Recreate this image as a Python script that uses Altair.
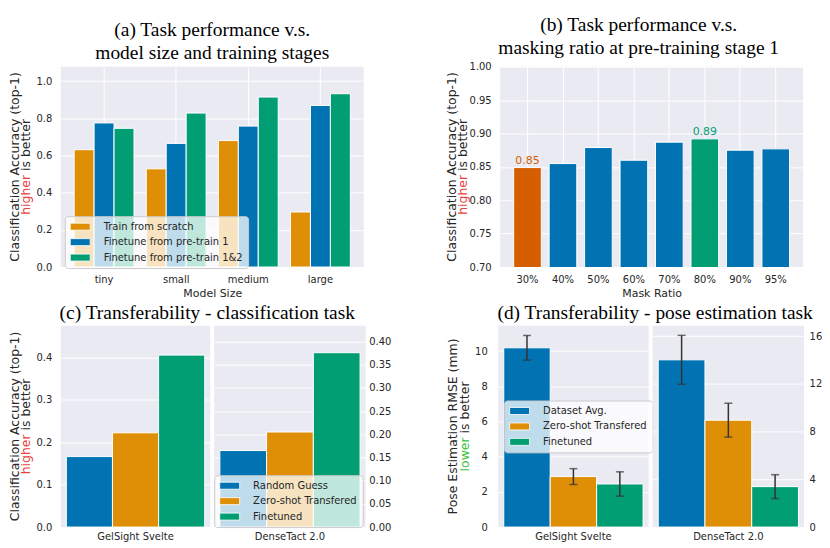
import altair as alt
import pandas as pd

# ---------------- data ----------------
model_sizes = ["tiny", "small", "medium", "large"]
train_stages = ["Train from scratch", "Finetune from pre-train 1", "Finetune from pre-train 1&2"]
acc_scratch = [0.631, 0.528, 0.680, 0.296]
acc_pretrain1 = [0.775, 0.665, 0.758, 0.869]
acc_pretrain12 = [0.746, 0.828, 0.914, 0.932]

mask_ratios = ["30%", "40%", "50%", "60%", "70%", "80%", "90%", "95%"]
mask_accuracy = [0.849, 0.855, 0.879, 0.860, 0.887, 0.892, 0.875, 0.877]
mask_highlight = ["lowest", "other", "other", "other", "other", "highest", "other", "other"]

sensors = ["GelSight Svelte", "DenseTact 2.0"]
cls_methods = ["Random Guess", "Zero-shot Transfered", "Finetuned"]
cls_gelsight = [0.166, 0.222, 0.405]
cls_densetact = [0.165, 0.205, 0.376]

pose_methods = ["Dataset Avg.", "Zero-shot Transfered", "Finetuned"]
pose_gelsight = [10.19, 2.87, 2.45]
pose_gelsight_err = [0.70, 0.45, 0.69]
pose_densetact = [14.02, 8.96, 3.39]
pose_densetact_err = [2.05, 1.42, 1.00]

title_a = ["(a) Task performance v.s.", "model size and training stages"]
title_b = ["(b) Task performance v.s.", "masking ratio at pre-training stage 1"]
title_c = "(c) Transferability - classification task"
title_d = "(d) Transferability - pose estimation task"
ytitle_cls = "Classification Accuracy (top-1)"
ytitle_pose = "Pose Estimation RMSE (mm)"
better_hi = ["higher", "is better"]
better_lo = ["lower", "is better"]

ticks_a = [0.0, 0.2, 0.4, 0.6, 0.8, 1.0]
ticks_b = [0.70, 0.75, 0.80, 0.85, 0.90, 0.95, 1.00]
ticks_cL = [0.0, 0.1, 0.2, 0.3, 0.4]
ticks_cR = [0.0, 0.05, 0.10, 0.15, 0.20, 0.25, 0.30, 0.35, 0.40]
ticks_dL = [0, 2, 4, 6, 8, 10]
ticks_dR = [0, 2, 4, 6, 8, 10, 12, 14, 16]

# ---------------- style ----------------
FONT = "DejaVu Sans"
SERIF = "Liberation Serif"
BG = "#eaeaf2"
TXT = "#262626"
BLUE, ORANGE, GREEN, RED = "#0173b2", "#de8f05", "#029e73", "#d55e00"
HI_RED, LO_GREEN = "#e8413f", "#3cc13c"
ERR = "#333333"
YT_FS = 12.5
WORD_EM = {"higher": 3.207, "lower": 2.734}

H_TOP, H_BOT = 201, 202


def legend(x, y):
    return alt.Legend(title=None, orient="none", legendX=x, legendY=y,
                      fillColor="rgba(255,255,255,0.75)", strokeColor="#cccccc",
                      cornerRadius=3, padding=5, labelFont=FONT, labelFontSize=10,
                      labelColor=TXT, symbolType="M-2,-0.7H2V0.7H-2Z", symbolSize=100,
                      symbolOffset=5, symbolStrokeColor="white", symbolStrokeWidth=0.8,
                      symbolOpacity=1, rowPadding=4.5, labelOffset=18)


def _vtext(txt, color, x, y, align):
    return alt.Chart(pd.DataFrame({"t": [txt]})).mark_text(
        angle=270, align=align, baseline="middle", font=FONT, fontSize=YT_FS, color=color
    ).encode(text="t:N", x=alt.value(x), y=alt.value(y))


def ytitle(line1, words, word_color, x1, x2, yc):
    """Two-line rotated y-axis title; first word of the second line coloured."""
    word_w = WORD_EM[words[0]] * YT_FS
    gap = 0.318 * YT_FS
    rest_w = 4.177 * YT_FS
    total = word_w + gap + rest_w
    split = yc + total / 2 - word_w
    return [
        _vtext(line1, TXT, x1, yc, "center"),
        _vtext(words[0], word_color, x2, split, "right"),
        _vtext(words[1], TXT, x2, split - gap, "left"),
    ]


def yaxis(values, fmt, orient="left", pad=9):
    return alt.Axis(values=values, format=fmt, labelPadding=pad, orient=orient, grid=True, title=None)


# ---------------- (a) ----------------
rows = []
for st, vals in zip(train_stages, [acc_scratch, acc_pretrain1, acc_pretrain12]):
    for sz, v in zip(model_sizes, vals):
        rows.append({"size": sz, "stage": st, "acc": v})
df_a = pd.DataFrame(rows)

bars_a = alt.Chart(df_a).mark_bar(stroke="white", strokeWidth=1).encode(
    x=alt.X("size:N", sort=model_sizes, scale=alt.Scale(paddingInner=0.17, paddingOuter=0.185),
            axis=alt.Axis(title="Model Size", labelAngle=0, labelPadding=8, titlePadding=3,
                          bandPosition=0.5, grid=True, titleFontSize=11)),
    xOffset=alt.XOffset("stage:N", sort=train_stages, scale=alt.Scale(paddingInner=0, paddingOuter=0)),
    y=alt.Y("acc:Q", scale=alt.Scale(domain=[0, 1.077], nice=False), axis=yaxis(ticks_a, ".1f")),
    color=alt.Color("stage:N", scale=alt.Scale(domain=train_stages, range=[ORANGE, BLUE, GREEN]),
                    legend=legend(4, 150)),
)
panel_a = alt.layer(bars_a, *ytitle(ytitle_cls, better_hi, HI_RED, -46, -34.5, H_TOP / 2)).properties(
    width=304, height=H_TOP,
    title=alt.TitleParams(title_a, anchor="middle", frame="group", baseline="alphabetic",
                          offset=-12, lineHeight=23))

# ---------------- (b) ----------------
df_b = pd.DataFrame({"ratio": mask_ratios, "acc": mask_accuracy, "mark": mask_highlight})
xb = alt.X("ratio:N", sort=mask_ratios, scale=alt.Scale(paddingInner=0.22, paddingOuter=0.38),
           axis=alt.Axis(title="Mask Ratio", labelAngle=0, labelPadding=8, titlePadding=3,
                         bandPosition=0.5, grid=True, titleFontSize=11))
yb = alt.Y("acc:Q", scale=alt.Scale(domain=[0.70, 1.00], nice=False, zero=False),
           axis=yaxis(ticks_b, ".2f"))
cb = alt.Color("mark:N", scale=alt.Scale(domain=["lowest", "other", "highest"], range=[RED, BLUE, GREEN]),
               legend=None)
bars_b = alt.Chart(df_b).mark_bar(stroke="white", strokeWidth=1, clip=True).encode(x=xb, y=yb, color=cb)
text_b = alt.Chart(df_b).transform_filter("datum.mark != 'other'").mark_text(
    baseline="alphabetic", dy=-4, fontSize=11, font=FONT).encode(
    x=xb, y=yb, color=cb, text=alt.Text("acc:Q", format=".2f"))
panel_b = alt.layer(bars_b, text_b, *ytitle(ytitle_cls, better_hi, HI_RED, -48.5, -37, H_TOP / 2)).properties(
    width=304, height=H_TOP,
    title=alt.TitleParams(title_b, anchor="middle", frame="group", baseline="alphabetic",
                          offset=-12, lineHeight=23, dx=-13))


# ---------------- (c) ----------------
def cls_panel(sensor, vals, ymax, ticks, fmt, left, lg, w):
    df = pd.DataFrame({"sensor": sensor, "method": cls_methods, "acc": vals})
    ax = yaxis(ticks, fmt) if left else yaxis(ticks, fmt, orient="right", pad=3)
    bars = alt.Chart(df).mark_bar(stroke="white", strokeWidth=1).encode(
        x=alt.X("sensor:N", scale=alt.Scale(paddingInner=0, paddingOuter=0.04),
                axis=alt.Axis(title=None, labelAngle=0, labelPadding=4, grid=False)),
        xOffset=alt.XOffset("method:N", sort=cls_methods, scale=alt.Scale(paddingInner=0, paddingOuter=0)),
        y=alt.Y("acc:Q", scale=alt.Scale(domain=[0, ymax], nice=False), axis=ax),
        color=alt.Color("method:N", scale=alt.Scale(domain=cls_methods, range=[BLUE, ORANGE, GREEN]),
                        legend=lg),
    )
    layers = [bars]
    if left:
        layers += ytitle(ytitle_cls, better_hi, HI_RED, -45.5, -34.5, H_BOT / 2)
    return alt.layer(*layers).properties(width=w, height=H_BOT)


panel_cL = cls_panel(sensors[0], cls_gelsight, 0.474, ticks_cL, ".1f", True, None, 150).properties(
    title=alt.TitleParams(title_c, anchor="middle", frame="group", baseline="alphabetic", offset=-13, dx=72))
panel_cR = cls_panel(sensors[1], cls_densetact, 0.434, ticks_cR, ".2f", False, legend(0, 150), 152)


# ---------------- (d) ----------------
def pose_panel(sensor, vals, errs, ymax, ticks, left, lg, w):
    df = pd.DataFrame({"sensor": sensor, "method": pose_methods, "rmse": vals, "err": errs})
    df["lo"] = df["rmse"] - df["err"]
    df["hi"] = df["rmse"] + df["err"]
    ax = yaxis(ticks, "d", pad=11) if left else yaxis(ticks, "d", orient="right", pad=5)
    x = alt.X("sensor:N", scale=alt.Scale(paddingInner=0, paddingOuter=0.04),
              axis=alt.Axis(title=None, labelAngle=0, labelPadding=4, grid=False))
    xo = alt.XOffset("method:N", sort=pose_methods, scale=alt.Scale(paddingInner=0, paddingOuter=0))
    ysc = alt.Scale(domain=[0, ymax], nice=False)
    base = alt.Chart(df)
    bars = base.mark_bar(stroke="white", strokeWidth=1).encode(
        x=x, xOffset=xo, y=alt.Y("rmse:Q", scale=ysc, axis=ax),
        color=alt.Color("method:N", scale=alt.Scale(domain=pose_methods, range=[BLUE, ORANGE, GREEN]),
                        legend=lg))
    rule = base.mark_rule(color=ERR, strokeWidth=1.5).encode(
        x=x, xOffset=xo, y=alt.Y("lo:Q", scale=ysc), y2="hi:Q")
    cap_hi = base.mark_tick(color=ERR, size=8, thickness=1.5).encode(
        x=x, xOffset=xo, y=alt.Y("hi:Q", scale=ysc))
    cap_lo = base.mark_tick(color=ERR, size=8, thickness=1.5).encode(
        x=x, xOffset=xo, y=alt.Y("lo:Q", scale=ysc))
    layers = [bars, rule, cap_hi, cap_lo]
    if left:
        layers += ytitle(ytitle_pose, better_lo, LO_GREEN, -45.5, -33, H_BOT / 2)
    return alt.layer(*layers).properties(width=w, height=H_BOT)


panel_dL = pose_panel(sensors[0], pose_gelsight, pose_gelsight_err, 11.44, ticks_dL, True,
                      legend(6, 75), 151).properties(
    title=alt.TitleParams(title_d, anchor="middle", frame="group", baseline="alphabetic", offset=-13, dx=82))
panel_dR = pose_panel(sensors[1], pose_densetact, pose_densetact_err, 16.87, ticks_dR, False, None, 152)


def spacer(w):
    return alt.Chart(pd.DataFrame({"v": [0]})).mark_point(opacity=0).encode(
        x=alt.value(0), y=alt.value(0)).properties(
        width=w, height=1, view=alt.ViewBackground(fill="transparent", strokeWidth=0))


row_top = alt.hconcat(panel_a, panel_b, spacing=137, bounds="flush").resolve_scale(
    color="independent", xOffset="independent")
row_bot = alt.hconcat(panel_cL, panel_cR, spacer(125), panel_dL, panel_dR, spacing=4,
                      bounds="flush").resolve_scale(color="independent", xOffset="independent")

chart = alt.vconcat(row_top, row_bot, spacing=4).resolve_scale(
    color="independent", xOffset="independent"
).properties(
    padding={"left": 0, "top": 6, "right": 0, "bottom": 0}
).configure(font=FONT).configure_view(
    fill=BG, strokeWidth=0
).configure_axis(
    domain=False, ticks=False, tickSize=0, gridColor="white", gridWidth=1,
    labelFont=FONT, labelFontSize=10, labelColor=TXT,
    titleFont=FONT, titleFontSize=12, titleColor=TXT, titleFontWeight="normal"
).configure_title(
    font=SERIF, fontSize=19.5, fontWeight="normal", color="black"
)

chart.save("out.html", embed_options={"renderer": "svg", "actions": False})
